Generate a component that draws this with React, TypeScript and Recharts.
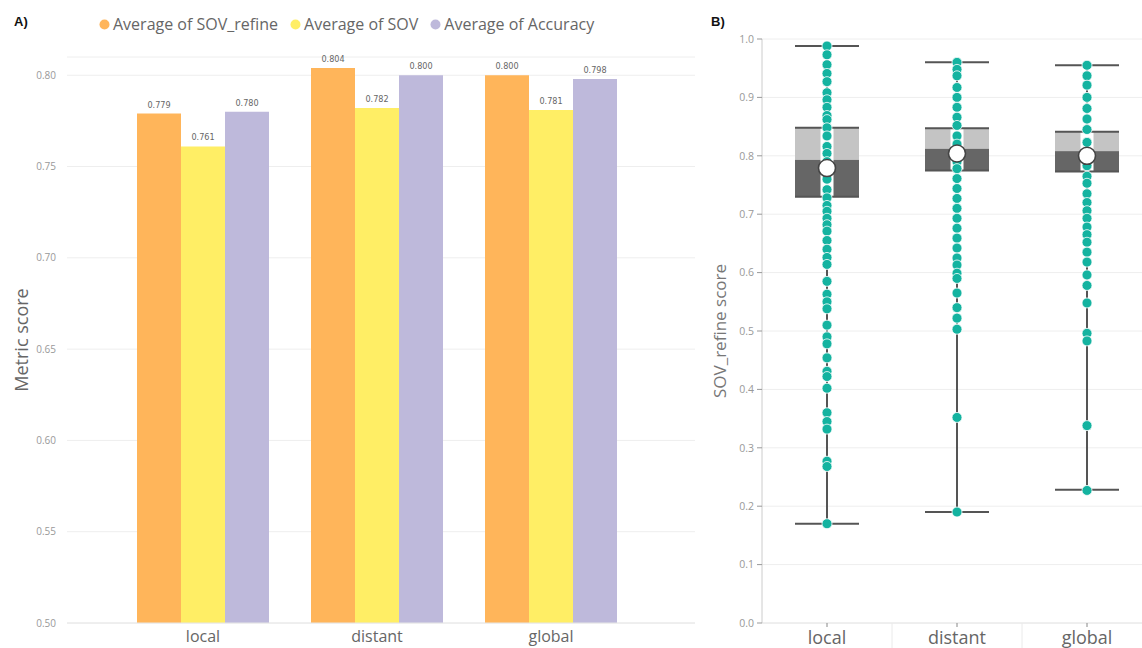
import React from 'react';
import {
  BarChart,
  Bar,
  XAxis,
  YAxis,
  CartesianGrid,
  LabelList,
  Legend,
  ComposedChart,
  Scatter,
} from 'recharts';

// ---- Panel A: average metric scores per group ----
const categories = ['local', 'distant', 'global'];
const avgSovRefine = [0.779, 0.804, 0.8];
const avgSov = [0.761, 0.782, 0.781];
const avgAccuracy = [0.78, 0.8, 0.798];
const metricTicks = [0.5, 0.55, 0.6, 0.65, 0.7, 0.75, 0.8];
const seriesNames = ['Average of SOV_refine', 'Average of SOV', 'Average of Accuracy'];

// ---- Panel B: SOV_refine score distribution per group ----
const whiskerLow = [0.17, 0.19, 0.228];
const whiskerHigh = [0.988, 0.96, 0.955];
const quartile1 = [0.73, 0.775, 0.773];
const medians = [0.793, 0.812, 0.808];
const quartile3 = [0.848, 0.847, 0.841];
const means = [0.779, 0.804, 0.8];
const scoreTicks = [0, 0.1, 0.2, 0.3, 0.4, 0.5, 0.6, 0.7, 0.8, 0.9, 1.0];

const localScores = [
  0.988, 0.973, 0.956, 0.941, 0.927, 0.908, 0.896, 0.883, 0.869, 0.862, 0.848,
  0.834, 0.816, 0.804, 0.79, 0.76, 0.742, 0.728, 0.715, 0.705, 0.693, 0.682,
  0.671, 0.655, 0.64, 0.626, 0.614, 0.585, 0.563, 0.55, 0.538, 0.51, 0.49,
  0.478, 0.454, 0.431, 0.422, 0.402, 0.36, 0.345, 0.332, 0.277, 0.268, 0.17,
];
const distantScores = [
  0.96, 0.948, 0.937, 0.917, 0.9, 0.883, 0.866, 0.852, 0.834, 0.82, 0.79,
  0.778, 0.761, 0.744, 0.727, 0.71, 0.693, 0.676, 0.659, 0.642, 0.625, 0.613,
  0.599, 0.59, 0.565, 0.54, 0.522, 0.503, 0.352, 0.19,
];
const globalScores = [
  0.955, 0.937, 0.921, 0.9, 0.881, 0.863, 0.845, 0.823, 0.8, 0.783, 0.765,
  0.753, 0.735, 0.72, 0.706, 0.693, 0.678, 0.665, 0.652, 0.635, 0.618, 0.596,
  0.578, 0.548, 0.496, 0.483, 0.338, 0.227,
];

const COLORS = {
  sovRefine: '#FFB55A',
  sov: '#FFEE65',
  accuracy: '#BEB9DB',
  teal: '#14B3A0',
};
const seriesColors = [COLORS.sovRefine, COLORS.sov, COLORS.accuracy];

const barData = categories.map((c, i) => ({
  group: c,
  sovRefine: avgSovRefine[i],
  sov: avgSov[i],
  accuracy: avgAccuracy[i],
}));

const boxData = categories.map((c, i) => ({
  group: c,
  whisker: [whiskerLow[i], whiskerHigh[i]],
  q1: quartile1[i],
  median: medians[i],
  q3: quartile3[i],
  mean: means[i],
}));

const scoreLists = [localScores, distantScores, globalScores];
const pointData = categories.flatMap((c, i) =>
  scoreLists[i].map((v) => ({ group: c, score: v }))
);

const FONT = "'Open Sans', 'Noto Sans', sans-serif";

// Box-and-whisker glyph drawn over the range bar [whisker low, whisker high]
const BoxShape = (props: any) => {
  const { x, y, width, height, payload } = props;
  if (x == null || y == null || !payload) return null;
  const top = Math.min(y, y + height);
  const h = Math.abs(height);
  const lo = payload.whisker[0];
  const hi = payload.whisker[1];
  const toY = (v: number) => top + (h * (hi - v)) / (hi - lo);
  const cx = x + width / 2;
  const yq1 = toY(payload.q1);
  const ymed = toY(payload.median);
  const yq3 = toY(payload.q3);
  const edge = '#555555';
  return (
    <g>
      <line x1={cx} x2={cx} y1={top} y2={top + h} stroke={edge} strokeWidth={2} />
      <line x1={x} x2={x + width} y1={top} y2={top} stroke={edge} strokeWidth={2} />
      <line x1={x} x2={x + width} y1={top + h} y2={top + h} stroke={edge} strokeWidth={2} />
      <rect x={x} y={yq3} width={width} height={ymed - yq3} fill="#C4C4C4" />
      <rect x={x} y={ymed} width={width} height={yq1 - ymed} fill="#666666" />
      <rect x={cx - 6.5} y={yq3} width={13} height={yq1 - yq3} fill="#FFFFFF" />
      <line x1={x} x2={x + width} y1={yq3} y2={yq3} stroke={edge} strokeWidth={2} />
      <line x1={x} x2={x + width} y1={yq1} y2={yq1} stroke={edge} strokeWidth={2} />
    </g>
  );
};

const ScoreDot = (props: any) => {
  const { cx, cy } = props;
  if (cx == null || cy == null) return null;
  return <circle cx={cx} cy={cy} r={5} fill={COLORS.teal} stroke="#FFFFFF" strokeWidth={0.8} />;
};

const MeanDot = (props: any) => {
  const { cx, cy } = props;
  if (cx == null || cy == null) return null;
  return <circle cx={cx} cy={cy} r={8.5} fill="#FFFFFF" stroke="#444444" strokeWidth={1.6} />;
};

// Category labels with a thin separator at each band's left edge
const GroupTick = (props: any) => {
  const { x, y, payload, index } = props;
  const half = payload && payload.offset ? payload.offset : 0;
  return (
    <g>
      {index > 0 && half > 0 && (
        <line x1={x - half} x2={x - half} y1={y - 6} y2={y + 22} stroke="#EAEAEA" strokeWidth={1} />
      )}
      <text x={x} y={y} dy={15} textAnchor="middle" fontSize={18} fill="#666666" fontFamily={FONT}>
        {payload.value}
      </text>
    </g>
  );
};

// Legend in series order (SOV_refine, SOV, Accuracy)
const LegendContent = () => (
  <div style={{ display: 'flex', alignItems: 'center', fontFamily: FONT, fontSize: 16, color: '#666666', whiteSpace: 'nowrap' }}>
    {seriesNames.map((name, i) => (
      <div key={name} style={{ display: 'flex', alignItems: 'center', marginRight: 12 }}>
        <svg width={11} height={11} style={{ marginRight: 3 }}>
          <circle cx={5.5} cy={5.5} r={5} fill={seriesColors[i]} />
        </svg>
        <span>{name}</span>
      </div>
    ))}
  </div>
);

const fmt3 = (v: any) => Number(v).toFixed(3);
const labelStyle = {
  fontSize: 9,
  fill: '#666666',
  fontFamily: "'DejaVu Sans Condensed', 'Liberation Sans Narrow', sans-serif",
};

export default function App() {
  return (
    <div
      style={{
        position: 'fixed',
        left: 0,
        top: 0,
        width: 1142,
        height: 648,
        overflow: 'hidden',
        background: '#FFFFFF',
        fontFamily: FONT,
      }}
    >
      <div style={{ position: 'absolute', left: 0, top: 0 }}>
        <BarChart
          width={700}
          height={648}
          data={barData}
          margin={{ top: 57, right: 5, left: 0, bottom: 0 }}
          barGap={0}
          barCategoryGap={21}
        >
          <CartesianGrid vertical={false} stroke="#EEEEEE" />
          <XAxis
            dataKey="group"
            height={25}
            padding={{ left: 49, right: 57 }}
            axisLine={{ stroke: '#E6E6E6' }}
            tickLine={false}
            tickMargin={2}
            tick={{ fontSize: 16, fill: '#666666', fontFamily: FONT }}
          />
          <YAxis
            width={67}
            domain={[0.5, 0.81]}
            ticks={metricTicks}
            axisLine={false}
            tickLine={false}
            tickMargin={5}
            tickFormatter={(v: number) => v.toFixed(2)}
            tick={{ fontSize: 10, fill: '#999999', fontFamily: FONT }}
            label={{
              value: 'Metric score',
              angle: -90,
              position: 'insideLeft',
              offset: 22,
              style: { textAnchor: 'middle', fontSize: 18, fill: '#666666', fontFamily: FONT },
            }}
          />
          <Legend
            layout="horizontal"
            verticalAlign="middle"
            align="center"
            wrapperStyle={{ top: 13, left: 99, width: 'auto' }}
            content={<LegendContent />}
          />
          <Bar dataKey="sovRefine" name={seriesNames[0]} fill={COLORS.sovRefine} barSize={44} isAnimationActive={false}>
            <LabelList dataKey="sovRefine" position="top" offset={6} formatter={fmt3} style={labelStyle} />
          </Bar>
          <Bar dataKey="sov" name={seriesNames[1]} fill={COLORS.sov} barSize={44} isAnimationActive={false}>
            <LabelList dataKey="sov" position="top" offset={6} formatter={fmt3} style={labelStyle} />
          </Bar>
          <Bar dataKey="accuracy" name={seriesNames[2]} fill={COLORS.accuracy} barSize={44} isAnimationActive={false}>
            <LabelList dataKey="accuracy" position="top" offset={6} formatter={fmt3} style={labelStyle} />
          </Bar>
        </BarChart>
      </div>

      <div style={{ position: 'absolute', left: 700, top: 0 }}>
        <ComposedChart
          width={452}
          height={648}
          data={boxData}
          margin={{ top: 39, right: 0, left: 0, bottom: 0 }}
        >
          <CartesianGrid vertical={false} stroke="#EEEEEE" />
          <XAxis
            dataKey="group"
            allowDuplicatedCategory={false}
            height={25}
            axisLine={{ stroke: '#E6E6E6' }}
            tickSize={4}
            tickMargin={2}
            tickLine={{ stroke: '#888888' }}
            tick={<GroupTick />}
          />
          <YAxis
            width={62}
            domain={[0, 1]}
            ticks={scoreTicks}
            axisLine={{ stroke: '#CCCCCC' }}
            tickLine={{ stroke: '#999999' }}
            tickSize={5}
            tickMargin={3}
            tickFormatter={(v: number) => v.toFixed(1)}
            tick={{ fontSize: 10.5, fill: '#999999', fontFamily: FONT }}
            label={{
              value: 'SOV_refine score',
              angle: -90,
              position: 'insideLeft',
              offset: 20,
              style: { textAnchor: 'middle', fontSize: 17, fill: '#777777', fontFamily: FONT },
            }}
          />
          <Bar dataKey="whisker" barSize={64} shape={<BoxShape />} isAnimationActive={false} />
          <Scatter data={pointData} dataKey="score" shape={<ScoreDot />} isAnimationActive={false} />
          <Scatter data={boxData} dataKey="mean" shape={<MeanDot />} isAnimationActive={false} />
        </ComposedChart>
      </div>

      <div style={{ position: 'absolute', left: 14, top: 14, fontSize: 13, fontWeight: 700, fontFamily: "'Liberation Sans', Arial, sans-serif", color: '#111' }}>
        A)
      </div>
      <div style={{ position: 'absolute', left: 711, top: 14, fontSize: 13, fontWeight: 700, fontFamily: "'Liberation Sans', Arial, sans-serif", color: '#111' }}>
        B)
      </div>
    </div>
  );
}
